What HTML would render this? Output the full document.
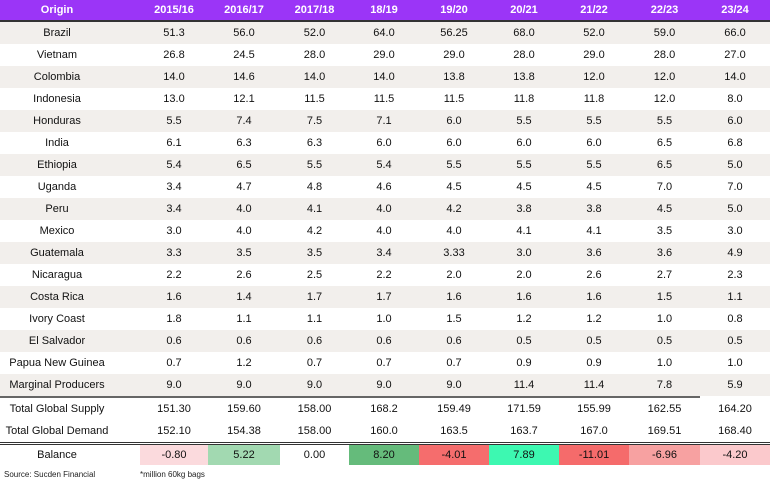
<!DOCTYPE html>
<html><head><meta charset="utf-8">
<style>
body{margin:0;width:770px;height:481px;background:#fff;font-family:"Liberation Sans",Arial,sans-serif;overflow:hidden;position:relative}
table{border-collapse:collapse;table-layout:fixed;width:770px;position:absolute;left:0;top:0}
td,th{padding:0;text-align:center;font-size:11px;color:#111;white-space:nowrap;overflow:hidden}
td:first-child,th:first-child{padding-right:26px}
th{background:#9b35f7;color:#fff;font-weight:bold;height:20px;border-bottom:2px solid #333}
tr.r td{height:22px}
tr.s td{background:#f2efec}
tr.t1 td{border-top:2px solid #666}
tr.t1 td:last-child{border-top-color:#fff}
tr.b td{border-top:3px double #333;height:20px}
#src{position:absolute;top:470px;left:4px;font-size:8px;color:#222}
#unit{position:absolute;top:470px;left:140px;font-size:8px;color:#222}
</style></head><body>
<table>
<colgroup><col style="width:140px"><col style="width:68px"><col style="width:72px"><col style="width:69px"><col style="width:70px"><col style="width:70px"><col style="width:70px"><col style="width:70px"><col style="width:71px"><col style="width:70px"></colgroup>
<thead><tr id="hdr"></tr></thead>
<tbody id="body"></tbody>
</table>
<div id="src">Source: Sucden Financial</div>
<div id="unit">*million 60kg bags</div>
<script>
const headers=["Origin","2015/16","2016/17","2017/18","18/19","19/20","20/21","21/22","22/23","23/24"];
const origins=["Brazil","Vietnam","Colombia","Indonesia","Honduras","India","Ethiopia","Uganda","Peru","Mexico","Guatemala","Nicaragua","Costa Rica","Ivory Coast","El Salvador","Papua New Guinea","Marginal Producers"];
const values=[
["51.3","56.0","52.0","64.0","56.25","68.0","52.0","59.0","66.0"],
["26.8","24.5","28.0","29.0","29.0","28.0","29.0","28.0","27.0"],
["14.0","14.6","14.0","14.0","13.8","13.8","12.0","12.0","14.0"],
["13.0","12.1","11.5","11.5","11.5","11.8","11.8","12.0","8.0"],
["5.5","7.4","7.5","7.1","6.0","5.5","5.5","5.5","6.0"],
["6.1","6.3","6.3","6.0","6.0","6.0","6.0","6.5","6.8"],
["5.4","6.5","5.5","5.4","5.5","5.5","5.5","6.5","5.0"],
["3.4","4.7","4.8","4.6","4.5","4.5","4.5","7.0","7.0"],
["3.4","4.0","4.1","4.0","4.2","3.8","3.8","4.5","5.0"],
["3.0","4.0","4.2","4.0","4.0","4.1","4.1","3.5","3.0"],
["3.3","3.5","3.5","3.4","3.33","3.0","3.6","3.6","4.9"],
["2.2","2.6","2.5","2.2","2.0","2.0","2.6","2.7","2.3"],
["1.6","1.4","1.7","1.7","1.6","1.6","1.6","1.5","1.1"],
["1.8","1.1","1.1","1.0","1.5","1.2","1.2","1.0","0.8"],
["0.6","0.6","0.6","0.6","0.6","0.5","0.5","0.5","0.5"],
["0.7","1.2","0.7","0.7","0.7","0.9","0.9","1.0","1.0"],
["9.0","9.0","9.0","9.0","9.0","11.4","11.4","7.8","5.9"]];
const supply=["151.30","159.60","158.00","168.2","159.49","171.59","155.99","162.55","164.20"];
const demand=["152.10","154.38","158.00","160.0","163.5","163.7","167.0","169.51","168.40"];
const balance=["-0.80","5.22","0.00","8.20","-4.01","7.89","-11.01","-6.96","-4.20"];
const balanceColors=["#fbdadd","#a2d9b1","#ffffff","#65bb7b","#f56d6d","#3df8b1","#f56b6b","#f7a1a1","#fbc9cc"];
const hdr=document.getElementById('hdr');
headers.forEach(h=>{const th=document.createElement('th');th.textContent=h;


hdr.appendChild(th);});
const body=document.getElementById('body');
function addRow(label,vals,cls,name,colors){
 const tr=document.createElement('tr');tr.className='r '+cls;
 
 
 const l=document.createElement('td');l.textContent=label;
 
 
 tr.appendChild(l);
 vals.forEach((v,i)=>{const td=document.createElement('td');td.textContent=v;
  if(colors)td.style.background=colors[i];
  
  
  tr.appendChild(td);});
 body.appendChild(tr);
}
origins.forEach((o,i)=>addRow(o,values[i],i%2===0?'s':'',o.toLowerCase().replace(/ /g,'-')+'-row'));
addRow('Total Global Supply',supply,'t1','total-supply-row');
addRow('Total Global Demand',demand,'','total-demand-row');
addRow('Balance',balance,'b','balance-row',balanceColors);
</script>
</body></html>
